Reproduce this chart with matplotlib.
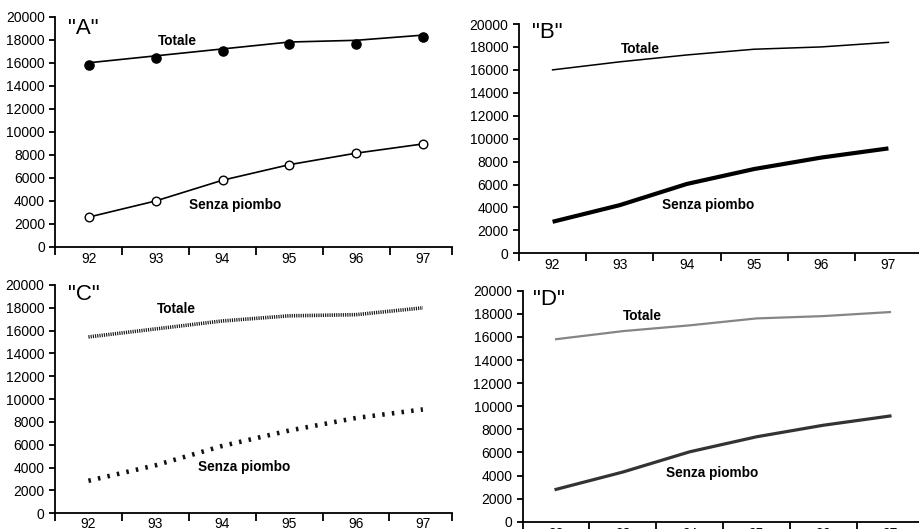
import matplotlib
matplotlib.use("Agg")
import matplotlib.pyplot as plt
import numpy as np

plt.rcParams['font.family'] = ['Liberation Sans', 'DejaVu Sans']
plt.rcParams['lines.scale_dashes'] = False

# Years on the x axis
years = ["92", "93", "94", "95", "96", "97"]
y_ticks = list(range(0, 20001, 2000))

# Panel "A": points plus line for each series
totale_a_points = [15800, 16400, 17000, 17600, 17600, 18200]
totale_a_line = [16000, 16600, 17200, 17800, 17950, 18400]
senza_a = [2600, 4000, 5800, 7150, 8150, 8950]

# Panel "B": thin vs thick line
totale_b = [16000, 16700, 17300, 17800, 18000, 18400]
senza_b = [2750, 4200, 6050, 7350, 8350, 9150]

# Panel "C": dotted lines
totale_c = [15450, 16150, 16850, 17300, 17400, 18000]
senza_c = [2850, 4200, 5900, 7250, 8350, 9100]

# Panel "D": grey shades
totale_d = [15800, 16500, 17000, 17600, 17800, 18150]
senza_d = [2800, 4300, 6050, 7350, 8350, 9150]

fig = plt.figure(figsize=(9.2, 5.29), dpi=100)

W, H = 920.0, 529.0


def make_axes(left, right, bottom, top, xmax, xpad=3.6):
    ax = fig.add_axes([left / W, 1 - bottom / H, (right - left) / W, (bottom - top) / H])
    x = np.arange(len(years))
    ax.set_xlim(-0.5, xmax)
    ax.set_ylim(0, 20000)
    for s in ("top", "right"):
        ax.spines[s].set_visible(False)
    for s in ("left", "bottom"):
        ax.spines[s].set_linewidth(1.3)
    ax.set_xticks(x)
    ax.set_xticklabels(years)
    ax.tick_params(axis="x", which="major", length=0, pad=xpad, labelsize=10)
    bounds = list(np.arange(-0.5, len(years) - 0.5, 1.0))
    if xmax < 5.44:
        bounds.append(xmax)
    ax.set_xticks(bounds, minor=True)
    ax.tick_params(axis="x", which="minor", length=6, width=1.3, direction="out")
    ax.set_yticks(y_ticks)
    ax.tick_params(axis="y", length=4, width=1.3, pad=3.6, labelsize=10, direction="out")
    return ax, x


def labels(ax, tag, tag_xy, tot_xy, sen_xy):
    ax.text(tag_xy[0], tag_xy[1], '"' + tag + '"', fontsize=16, ha="left", va="center")
    ax.text(tot_xy[0], tot_xy[1], "Totale", fontsize=9.8, fontweight="bold",
            ha="center", va="center")
    ax.text(sen_xy[0], sen_xy[1], "Senza piombo", fontsize=9.8, fontweight="bold",
            ha="center", va="center")


# --- A ---
axA, x = make_axes(55.5, 452, 247, 16.7, 5.435)
axA.plot(x, totale_a_line, color="black", lw=1.2, zorder=2)
axA.plot(x, totale_a_points, ls="none", marker="o", ms=6.6, color="black", zorder=3)
axA.plot(x, senza_a, color="black", lw=1.2, marker="o", ms=6.2,
         mfc="white", mec="black", mew=1.0, zorder=3)
labels(axA, "A", (-0.31, 18950), (1.32, 17850), (2.19, 3650))

# --- B ---
axB, x = make_axes(519, 920, 253.3, 24, 5.47)
axB.plot(x, totale_b, color="black", lw=1.1)
axB.plot(x, senza_b, color="black", lw=3.0, solid_capstyle="butt")
labels(axB, "B", (-0.31, 19250), (1.30, 17800), (2.32, 4190))

# --- C ---
axC, x = make_axes(55, 452, 513.3, 285, 5.435, xpad=2.4)
axC.plot(x, totale_c, color="#111111", lw=2.6, dashes=(0.8, 0.8),
         dash_capstyle="butt")
axC.plot(x, senza_c, color="#111111", lw=3.3, dashes=(1.8, 5.2),
         dash_capstyle="butt")
labels(axC, "C", (-0.31, 19170), (1.32, 17900), (2.33, 4080))

# --- D ---
axD, x = make_axes(522.7, 920, 521.7, 290.7, 5.45)
axD.plot(x, totale_d, color="#858585", lw=1.6)
axD.plot(x, senza_d, color="#333333", lw=2.3)
labels(axD, "D", (-0.34, 19240), (1.29, 17810), (2.33, 4220))

fig.savefig("out.png", dpi=100)
